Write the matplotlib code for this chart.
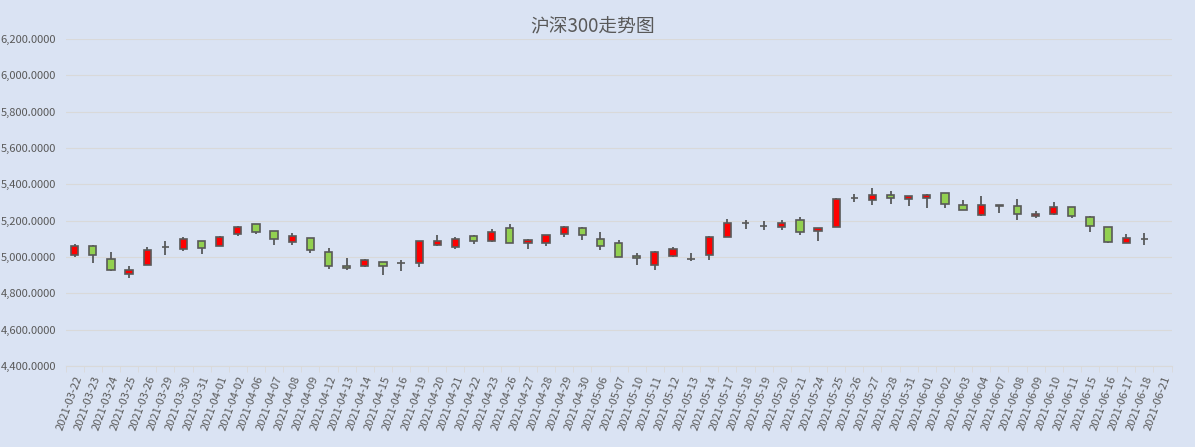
import matplotlib.pyplot as plt
import numpy as np

plt.rcParams['font.family'] = ['Noto Sans CJK SC', 'DejaVu Sans']

dates = ["2021-03-22", "2021-03-23", "2021-03-24", "2021-03-25", "2021-03-26",
         "2021-03-29", "2021-03-30", "2021-03-31", "2021-04-01", "2021-04-02",
         "2021-04-06", "2021-04-07", "2021-04-08", "2021-04-09", "2021-04-12",
         "2021-04-13", "2021-04-14", "2021-04-15", "2021-04-16", "2021-04-19",
         "2021-04-20", "2021-04-21", "2021-04-22", "2021-04-23", "2021-04-26",
         "2021-04-27", "2021-04-28", "2021-04-29", "2021-04-30", "2021-05-06",
         "2021-05-07", "2021-05-10", "2021-05-11", "2021-05-12", "2021-05-13",
         "2021-05-14", "2021-05-17", "2021-05-18", "2021-05-19", "2021-05-20",
         "2021-05-21", "2021-05-24", "2021-05-25", "2021-05-26", "2021-05-27",
         "2021-05-28", "2021-05-31", "2021-06-01", "2021-06-02", "2021-06-03",
         "2021-06-04", "2021-06-07", "2021-06-08", "2021-06-09", "2021-06-10",
         "2021-06-11", "2021-06-15", "2021-06-16", "2021-06-17", "2021-06-18",
         "2021-06-21"]

# open / high / low / close (no data on the last day)
open_ = [5008.4, 5059.6, 4988.3, 4906.0, 4955.3, 5052.3, 5041.3, 5087.0, 5057.8, 5129.2,
         5180.4, 5142.0, 5081.6, 5103.5, 5026.7, 4948.0, 4949.8, 4971.8, 4964.5, 4964.5,
         5063.3, 5052.3, 5114.5, 5090.7, 5158.4, 5074.3, 5074.3, 5129.2, 5158.4, 5098.0,
         5076.1, 5004.7, 4953.5, 5002.9, 4990.0, 5008.4, 5112.7, 5189.6, 5173.1, 5167.6,
         5202.4, 5142.0, 5163.9, 5325.0, 5312.2, 5339.6, 5317.6, 5323.1, 5350.6, 5284.7,
         5229.8, 5284.7, 5279.2, 5224.3, 5235.3, 5273.7, 5218.8, 5164.0, 5076.1, 5100.0,
         np.nan]
high = [5070.6, 5065.0, 5026.7, 4948.0, 5054.0, 5089.0, 5110.9, 5087.0, 5116.3, 5171.3,
        5180.4, 5142.0, 5131.0, 5103.5, 5048.6, 4993.7, 4988.3, 4971.8, 4984.6, 5087.0,
        5120.0, 5109.0, 5120.0, 5153.0, 5182.2, 5098.0, 5120.0, 5171.3, 5164.0, 5136.5,
        5092.6, 5021.2, 5032.2, 5054.0, 5021.2, 5114.5, 5207.9, 5202.4, 5196.9, 5202.4,
        5218.8, 5158.4, 5323.1, 5345.1, 5378.0, 5361.6, 5334.1, 5345.1, 5350.6, 5312.2,
        5334.1, 5284.7, 5317.6, 5251.8, 5301.2, 5273.7, 5224.3, 5164.0, 5125.5, 5131.0,
        np.nan]
low = [4999.0, 4964.5, 4922.4, 4884.0, 4955.3, 5010.0, 5030.3, 5015.7, 5057.8, 5118.0,
       5125.5, 5063.3, 5063.3, 5021.2, 4933.3, 4928.0, 4942.5, 4898.6, 4922.4, 4942.5,
       5057.8, 5045.0, 5068.8, 5085.0, 5074.3, 5041.3, 5057.8, 5112.7, 5096.2, 5035.8,
       4997.4, 4953.5, 4928.0, 4997.4, 4977.3, 4980.9, 5112.7, 5156.6, 5151.1, 5151.1,
       5123.7, 5090.7, 5163.9, 5304.8, 5284.7, 5290.2, 5279.2, 5268.2, 5268.2, 5257.3,
       5224.3, 5240.8, 5202.4, 5213.3, 5229.8, 5213.3, 5136.5, 5076.1, 5076.1, 5065.0,
       np.nan]
close = [5059.6, 5008.4, 4928.0, 4928.0, 5037.7, 5052.3, 5098.0, 5046.8, 5109.0, 5164.0,
         5140.1, 5101.7, 5114.5, 5037.7, 4949.8, 4938.8, 4982.8, 4949.8, 4964.5, 5087.0,
         5087.0, 5098.0, 5090.7, 5136.5, 5074.3, 5092.6, 5120.0, 5164.0, 5123.7, 5057.8,
         4997.4, 4991.9, 5026.7, 5043.2, 4990.0, 5109.0, 5185.9, 5189.6, 5173.1, 5185.9,
         5136.5, 5158.4, 5317.6, 5325.0, 5339.6, 5323.1, 5334.1, 5339.6, 5290.2, 5257.3,
         5284.7, 5279.2, 5235.3, 5235.3, 5273.7, 5224.3, 5169.4, 5081.6, 5103.5, 5100.0,
         np.nan]

bg = '#dae3f3'
text_col = '#595959'

o = np.array(open_)
h = np.array(high)
l = np.array(low)
c = np.array(close)
x = np.arange(len(dates))
ok = ~np.isnan(o)
up = c >= o

fig = plt.figure(figsize=(11.95, 4.47), dpi=100, facecolor=bg)
ax = fig.add_axes([0.0549, 0.1812, 0.9255, 0.7316])
ax.set_facecolor(bg)

# wicks
ax.vlines(x[ok], l[ok], h[ok], color='#404040', linewidth=1.1, zorder=2)

# bodies
colors = np.where(up, '#ff0000', '#92d050')
ax.bar(x[ok], np.abs(c - o)[ok], bottom=np.minimum(o, c)[ok], width=0.4,
       color=colors[ok], edgecolor='#595959', linewidth=1.2, zorder=3)

ax.set_xlim(-0.5, len(dates) - 0.5)
ax.set_ylim(4400, 6200)
ax.set_yticks(np.arange(4400, 6201, 200))
ax.set_yticklabels([f"{v:,.4f}" for v in np.arange(4400, 6201, 200)])
ax.yaxis.grid(True, color='#d9d9d9', linewidth=0.8, zorder=0)
ax.set_axisbelow(True)

ax.set_xticks(x)
ax.set_xticklabels(dates, rotation=70, ha='right', rotation_mode='anchor')
ax.set_xticks(np.arange(-0.5, len(dates), 1), minor=True)
ax.tick_params(axis='x', which='major', length=0, pad=6, labelsize=8, colors=text_col)
ax.tick_params(axis='x', which='minor', length=4, color='#d9d9d9')
ax.tick_params(axis='y', length=0, pad=7, labelsize=8, colors=text_col)

for s in ['top', 'left', 'right']:
    ax.spines[s].set_visible(False)
ax.spines['bottom'].set_color('#d9d9d9')

fig.text(0.496, 0.94, "沪深300走势图", ha='center', va='center', fontsize=13.5, color=text_col)

fig.savefig("out.png", dpi=100, facecolor=bg)
